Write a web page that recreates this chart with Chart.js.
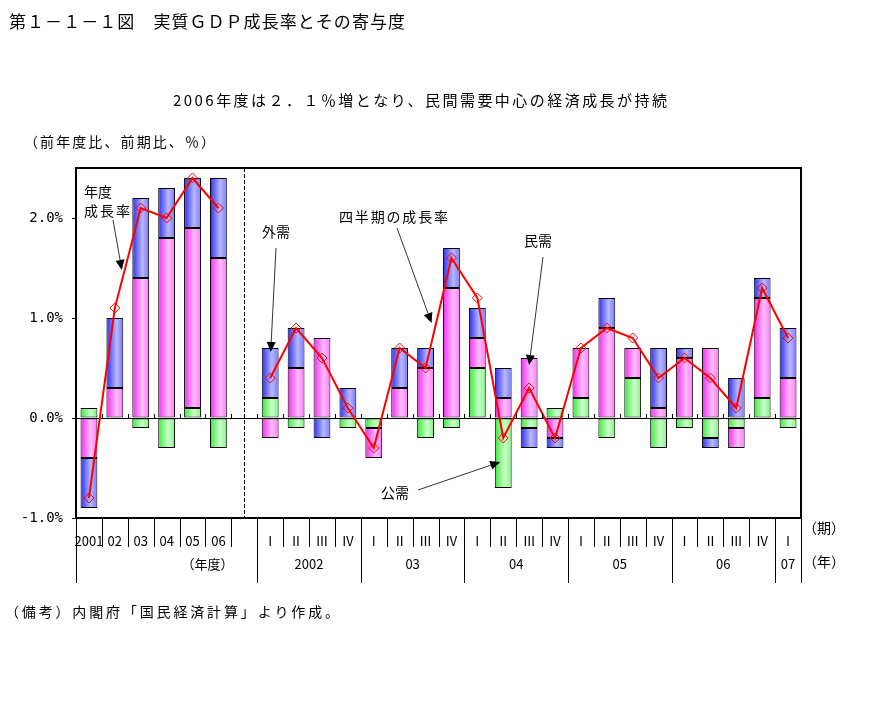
<!DOCTYPE html>
<html lang="ja">
<head>
<meta charset="utf-8">
<title>実質ＧＤＰ成長率とその寄与度</title>
<script src="https://cdn.jsdelivr.net/npm/chart.js@4.4.1/dist/chart.umd.min.js"></script>
<style>
  html, body { margin: 0; padding: 0; background: #fff; }
  #wrap { width: 881px; height: 715px; }
</style>
</head>
<body>
<div id="wrap"><canvas id="gdp" width="881" height="715"></canvas></div>
<script>
const FONT = '"Noto Sans CJK JP", "Noto Sans", sans-serif';

// categories: fiscal years, one blank spacer, then quarters 2002 I .. 2007 I
const annualLabels = ["2001", "02", "03", "04", "05", "06"];
const quarterLabels = [
    "Ⅰ", "Ⅱ", "Ⅲ", "Ⅳ", "Ⅰ", "Ⅱ", "Ⅲ", "Ⅳ", "Ⅰ", "Ⅱ", "Ⅲ", "Ⅳ",
    "Ⅰ", "Ⅱ", "Ⅲ", "Ⅳ", "Ⅰ", "Ⅱ", "Ⅲ", "Ⅳ", "Ⅰ",
];
const categories = [...annualLabels, "", ...quarterLabels];

const yearGroups = ["2002", "03", "04", "05", "06", "07"];
const yearGroupSizes = [4, 4, 4, 4, 4, 1];

// contributions (% points)
const publicDemand = [0.1, 0.0, -0.1, -0.3, 0.1, -0.3, null,
    0.2, -0.1, 0.0, -0.1,
    -0.1, 0.0, -0.2, -0.1,
    0.5, -0.7, -0.1, 0.1,
    0.2, -0.2, 0.4, -0.3,
    -0.1, -0.2, -0.1, 0.2,
    -0.1];
const privateDemand = [-0.4, 0.3, 1.4, 1.8, 1.8, 1.6, null,
    -0.2, 0.5, 0.8, 0.0,
    -0.3, 0.3, 0.5, 1.3,
    0.3, 0.2, 0.6, -0.2,
    0.5, 0.9, 0.3, 0.1,
    0.6, 0.7, -0.2, 1.0,
    0.4];
const externalDemand = [-0.5, 0.7, 0.8, 0.5, 0.5, 0.8, null,
    0.5, 0.4, -0.2, 0.3,
    0.0, 0.4, 0.2, 0.4,
    0.3, 0.3, -0.2, -0.1,
    0.0, 0.3, 0.0, 0.6,
    0.1, -0.1, 0.4, 0.2,
    0.5];
const growthRate = [-0.8, 1.1, 2.1, 2.0, 2.4, 2.1, null,
    0.4, 0.9, 0.6, 0.1,
    -0.3, 0.7, 0.5, 1.6,
    1.2, -0.2, 0.3, -0.2,
    0.7, 0.9, 0.8, 0.4,
    0.6, 0.4, 0.1, 1.3,
    0.8];

const yTicks = [-1, 0, 1, 2];

const BAR_FRAC = 0.65;

// horizontal shading like the original (dark edge -> light -> mid)
function barGradient(dark, light, mid) {
    return (ctx) => {
        const chart = ctx.chart;
        const xs = chart.scales.x;
        if (!xs || !chart.chartArea) return light;
        const w = xs.width / categories.length * BAR_FRAC;
        const cx = xs.getPixelForValue(ctx.dataIndex);
        const g = chart.ctx.createLinearGradient(cx - w / 2, 0, cx + w / 2, 0);
        g.addColorStop(0, dark);
        g.addColorStop(0.6, light);
        g.addColorStop(1, mid);
        return g;
    };
}

function fitText(c, text, left, y, width) {
    c.save();
    c.letterSpacing = "0px";
    const w0 = c.measureText(text).width;
    const n = [...text].length;
    const sp = n > 1 ? (width - w0) / (n - 1) : 0;
    c.letterSpacing = sp + "px";
    c.textAlign = "left";
    c.fillText(text, left, y);
    c.restore();
}

function arrow(c, x1, y1, x2, y2) {
    const a = Math.atan2(y2 - y1, x2 - x1);
    const L = 10, W = 4.5;
    const bx = x2 - L * Math.cos(a), by = y2 - L * Math.sin(a);
    c.save();
    c.strokeStyle = "#333";
    c.lineWidth = 1;
    c.beginPath(); c.moveTo(x1, y1); c.lineTo(bx, by); c.stroke();
    c.fillStyle = "#000";
    c.beginPath();
    c.moveTo(x2, y2);
    c.lineTo(bx + W * Math.sin(a), by - W * Math.cos(a));
    c.lineTo(bx - W * Math.sin(a), by + W * Math.cos(a));
    c.closePath();
    c.fill();
    c.restore();
}

const decorations = {
    id: "decorations",
    afterDraw(chart) {
        const c = chart.ctx;
        const xs = chart.scales.x, ys = chart.scales.y;
        const { left, right, top, bottom } = chart.chartArea;
        const slot = xs.width / categories.length;
        const px = i => xs.getPixelForValue(i);
        const y0 = ys.getPixelForValue(0);

        c.save();
        c.fillStyle = "#000";
        c.strokeStyle = "#000";
        c.textBaseline = "middle";

        // frame
        c.lineWidth = 2;
        c.strokeRect(left, top, right - left, bottom - top);

        // dashed divider in the spacer slot
        c.lineWidth = 1;
        c.setLineDash([4, 2]);
        c.beginPath();
        c.moveTo(Math.round(px(6)) + 0.5, top);
        c.lineTo(Math.round(px(6)) + 0.5, bottom);
        c.stroke();
        c.setLineDash([]);

        // small marks on the zero line
        c.beginPath();
        for (let i = 1; i < categories.length; i++) {
            const x = Math.round(left + i * slot) + 0.5;
            c.moveTo(x, y0 - 4);
            c.lineTo(x, y0);
        }
        c.stroke();

        // category separators below the axis
        const longAt = [0, 7];
        let acc = 7;
        yearGroupSizes.forEach(n => { acc += n; longAt.push(acc); });
        c.beginPath();
        for (let i = 0; i <= categories.length; i++) {
            const x = Math.round(left + i * slot) + 0.5;
            c.moveTo(x, bottom);
            c.lineTo(x, longAt.includes(i) ? 583 : 547);
        }
        c.stroke();

        // row 1: fiscal years / quarters
        c.font = "13px " + FONT;
        c.textAlign = "center";
        categories.forEach((lab, i) => {
            if (lab) c.fillText(lab, px(i), 541);
        });

        // row 2: year groups
        c.fillText("（年度）", (px(4) + px(5)) / 2 + 2, 564);
        let start = 7;
        yearGroups.forEach((g, k) => {
            const end = start + yearGroupSizes[k] - 1;
            c.fillText(g, (px(start) + px(end)) / 2, 564);
            start = end + 1;
        });
        c.font = "14px " + FONT;
        c.textAlign = "left";
        c.fillText("（期）", 803, 528);
        c.fillText("（年）", 803, 562);

        // titles and notes
        c.font = "17px " + FONT;
        fitText(c, "第１－１－１図　実質ＧＤＰ成長率とその寄与度", 9, 22, 396);
        c.font = "15px " + FONT;
        fitText(c, "2006年度は２．１％増となり、民間需要中心の経済成長が持続", 173, 100, 494);
        c.font = "14px " + FONT;
        fitText(c, "（前年度比、前期比、％）", 24, 142, 191);
        fitText(c, "（備考）内閣府「国民経済計算」より作成。", 5, 612, 334);

        // annotations
        c.font = "14px " + FONT;
        c.fillText("年度", 84, 192);
        fitText(c, "成長率", 84, 211, 46);
        c.fillText("外需", 262, 232);
        fitText(c, "四半期の成長率", 339, 217, 109);
        c.fillText("民需", 524, 241);
        c.fillText("公需", 381, 493);

        arrow(c, 113, 220, px(1) + 7, ys.getPixelForValue(1.48));
        arrow(c, 276, 248, px(7) + 0.5, ys.getPixelForValue(0.66));
        arrow(c, 397, 228, px(13) + 6, ys.getPixelForValue(0.95));
        arrow(c, 543, 257, px(17), ys.getPixelForValue(0.53));
        arrow(c, 418, 490, px(16) - 3, ys.getPixelForValue(-0.44));

        c.restore();
    },
};

const barCommon = {
    type: "bar",
    borderColor: "#000",
    borderWidth: 1,
    borderSkipped: false,
    barPercentage: BAR_FRAC,
    categoryPercentage: 1.0,
    order: 1,
};

new Chart(document.getElementById("gdp"), {
    data: {
        labels: categories,
        datasets: [
            {
                ...barCommon,
                label: "公需",
                data: publicDemand,
                backgroundColor: barGradient("#3ae83a", "#ccffcc", "#7cf57c"),
            },
            {
                ...barCommon,
                label: "民需",
                data: privateDemand,
                backgroundColor: barGradient("#f02cf0", "#ffbcff", "#ff78ff"),
            },
            {
                ...barCommon,
                label: "外需",
                data: externalDemand,
                backgroundColor: barGradient("#2c2cf0", "#b8b8ff", "#7878ff"),
            },
            {
                type: "line",
                label: "成長率",
                data: growthRate,
                stack: "growth",
                order: 0,
                borderColor: "#ff0000",
                borderWidth: 2,
                tension: 0,
                spanGaps: false,
                pointStyle: "rectRot",
                pointRadius: 5,
                pointBorderWidth: 1,
                pointBorderColor: "#ff0000",
                pointBackgroundColor: "rgba(0,0,0,0)",
            },
        ],
    },
    options: {
        responsive: false,
        animation: false,
        layout: { padding: { top: 168, right: 80, bottom: 197, left: 0 } },
        plugins: {
            legend: { display: false },
            tooltip: { enabled: false },
        },
        scales: {
            x: {
                stacked: true,
                offset: true,
                ticks: { display: false },
                grid: { display: false },
                border: { display: true, color: "#000", width: 2 },
                afterFit: s => { s.height = 0; },
            },
            y: {
                stacked: true,
                min: -1,
                max: 2.5,
                afterBuildTicks: s => { s.ticks = yTicks.map(v => ({ value: v })); },
                afterFit: s => { s.width = 76; },
                ticks: {
                    callback: v => v.toFixed(1) + "%",
                    font: { family: "DejaVu Sans Mono", size: 14 },
                    color: "#000",
                    padding: 9,
                },
                grid: {
                    color: c => (c.tick && c.tick.value === 0 ? "#000" : "rgba(0,0,0,0)"),
                    tickColor: "#000",
                    tickLength: 4,
                    lineWidth: 1,
                },
                border: { display: true, color: "#000", width: 2 },
            },
        },
    },
    plugins: [decorations],
});
</script>
</body>
</html>
